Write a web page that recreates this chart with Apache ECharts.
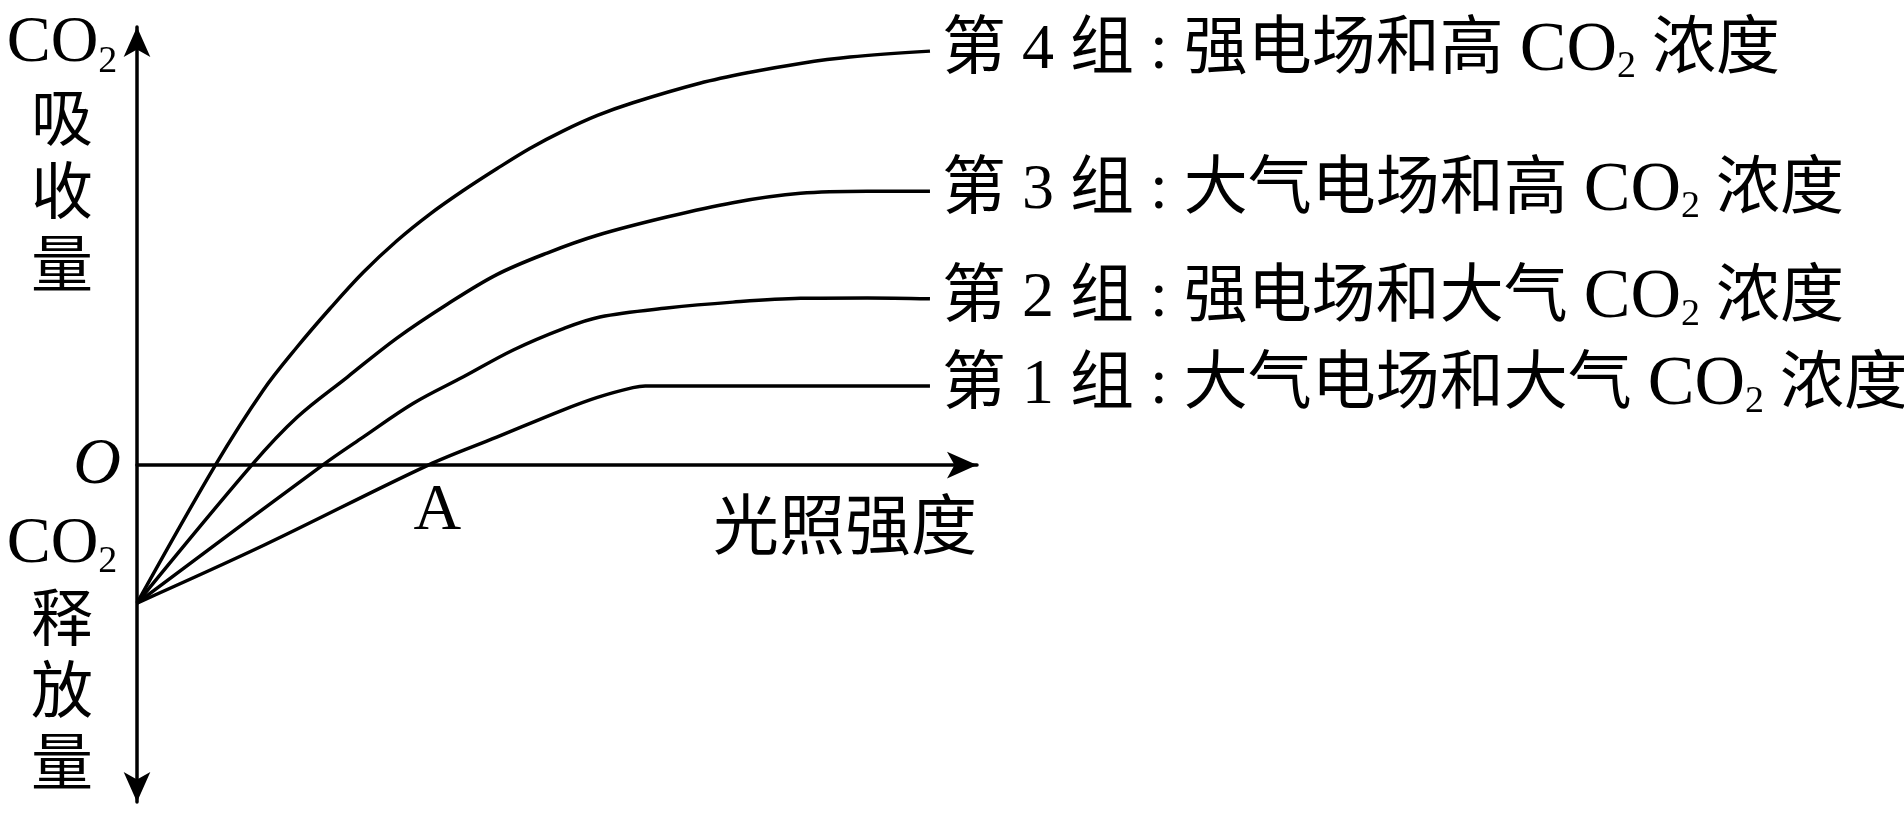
<!DOCTYPE html>
<html>
<head>
<meta charset="utf-8">
<title>光照强度与CO2吸收量</title>
<script src="https://cdn.jsdelivr.net/npm/echarts@6/dist/echarts.min.js"></script>
<style>
html, body { margin: 0; padding: 0; background: #fff; }
#chart { width: 1904px; height: 821px; }
</style>
</head>
<body>
<div id="chart"></div>
<script>
// 横轴: 光照强度 (相对值), 纵轴: CO2 吸收量 (相对值, 负值为释放量)
const g1X = [0, 15.3, 35.3, 43.6, 51.6, 55.8, 60.1, 61.6, 96.1];
const g1Y = [-32.6, -19.0, 0, 6.6, 13.0, 16.0, 18.3, 18.7, 18.7];

const g2X = [0, 22.5, 27.4, 33.5, 39.5, 45.6, 51.6, 56.1, 64.2, 72.2, 80.4, 88.5, 96.1];
const g2Y = [-32.6, 0, 6.6, 14.6, 20.8, 27.2, 32.2, 35.0, 37.1, 38.5, 39.4, 39.5, 39.3];

const g3X = [0, 13.9, 19.4, 25.5, 31.5, 37.6, 43.6, 49.7, 55.8, 64.2, 72.2, 80.4, 88.5, 96.1];
const g3Y = [-32.6, 0, 11.3, 20.8, 30.0, 38.0, 45.0, 50.1, 54.3, 58.6, 62.0, 64.2, 64.7, 64.7];

const g4X = [0, 9.5, 15.3, 19.4, 23.4, 27.4, 31.5, 35.5, 39.5, 43.6, 47.6, 51.6, 55.8, 60.1, 68.2, 74.3, 80.4, 86.4, 96.1];
const g4Y = [-32.6, 0, 17.7, 27.9, 37.0, 45.5, 53.0, 59.3, 64.8, 70.0, 74.8, 78.9, 82.6, 85.6, 90.2, 92.8, 94.9, 96.4, 97.8];

const groupNames = [
  '第 1 组 : 大气电场和大气 {co|CO}{s|2} 浓度',
  '第 2 组 : 强电场和大气 {co|CO}{s|2} 浓度',
  '第 3 组 : 大气电场和高 {co|CO}{s|2} 浓度',
  '第 4 组 : 强电场和高 {co|CO}{s|2} 浓度'
];

// 第1组曲线与横轴的交点
const pointA = 35.3;

const serif = '"Liberation Serif", "Noto Sans CJK SC", serif';
const cjk = '"Noto Sans CJK SC", sans-serif';

function zip(xs, ys) {
  return xs.map(function (x, i) { return [x, ys[i]]; });
}

const groups = [[g1X, g1Y], [g2X, g2Y], [g3X, g3Y], [g4X, g4Y]];

const series = groups.map(function (g, i) {
  return {
    name: groupNames[i],
    type: 'line',
    data: zip(g[0], g[1]),
    smooth: 0.35,
    showSymbol: false,
    lineStyle: { color: '#000', width: 3.5 },
    endLabel: {
      show: true,
      formatter: groupNames[i],
      distance: 12,
      color: '#000',
      fontSize: 64,
      fontFamily: serif,
      rich: {
        co: { fontSize: 70, fontFamily: serif, color: '#000' },
        s: { fontSize: 38, fontFamily: serif, color: '#000', verticalAlign: 'bottom', lineHeight: 38 }
      }
    }
  };
});

// 点 A 标在第1组与横轴交点的下方
series[0].markPoint = {
  symbol: 'circle',
  symbolSize: 0,
  silent: true,
  data: [{ coord: [pointA, 0], value: 'A' }],
  label: {
    show: true,
    position: 'bottom',
    distance: 14,
    offset: [9, 0],
    formatter: 'A',
    color: '#000',
    fontSize: 66,
    fontFamily: serif
  }
};

const myChart = echarts.init(document.getElementById('chart'));

const option = {
  animation: false,
  backgroundColor: '#fff',
  grid: { left: 137, right: 927, top: 27, bottom: 19, containLabel: false, outerBoundsMode: 'none' },
  xAxis: {
    type: 'value',
    min: 0,
    max: 101.8,
    splitLine: { show: false },
    axisTick: { show: false },
    axisLabel: { show: false },
    axisLine: {
      onZero: true,
      symbol: ['none', 'arrow'],
      symbolSize: [20, 30],
      lineStyle: { color: '#000', width: 3.5 }
    }
  },
  yAxis: {
    type: 'value',
    min: -79.6,
    max: 103.5,
    splitLine: { show: false },
    axisTick: { show: false },
    axisLabel: { show: false },
    axisLine: {
      show: true,
      symbol: ['arrow', 'arrow'],
      symbolSize: [20, 30],
      lineStyle: { color: '#000', width: 3.5 }
    }
  },
  graphic: [
    {
      type: 'text',
      x: 62, y: 7,
      style: {
        text: '{co|CO}{s|2}\n{c|吸}\n{c|收}\n{c|量}',
        align: 'center',
        verticalAlign: 'top',
        fill: '#000',
        rich: {
          co: { fontSize: 66, fontFamily: serif, lineHeight: 74 },
          s: { fontSize: 38, fontFamily: serif, lineHeight: 38, verticalAlign: 'bottom' },
          c: { fontSize: 62, fontFamily: cjk, lineHeight: 73 }
        }
      }
    },
    {
      type: 'text',
      x: 62, y: 509,
      style: {
        text: '{co|CO}{s|2}\n{c|释}\n{c|放}\n{c|量}',
        align: 'center',
        verticalAlign: 'top',
        fill: '#000',
        rich: {
          co: { fontSize: 66, fontFamily: serif, lineHeight: 72 },
          s: { fontSize: 38, fontFamily: serif, lineHeight: 38, verticalAlign: 'bottom' },
          c: { fontSize: 62, fontFamily: cjk, lineHeight: 72 }
        }
      }
    },
    {
      type: 'text',
      x: 97, y: 466,
      style: {
        text: 'O',
        align: 'center',
        verticalAlign: 'middle',
        fill: '#000',
        font: 'italic 66px "Liberation Serif", serif'
      }
    },
    {
      type: 'text',
      x: 977, y: 524,
      style: {
        text: '光照强度',
        align: 'right',
        verticalAlign: 'middle',
        fill: '#000',
        font: '66px ' + cjk
      }
    }
  ],
  series: series
};

myChart.setOption(option);
window.onresize = function () {
  myChart.resize();
};
</script>
</body>
</html>
